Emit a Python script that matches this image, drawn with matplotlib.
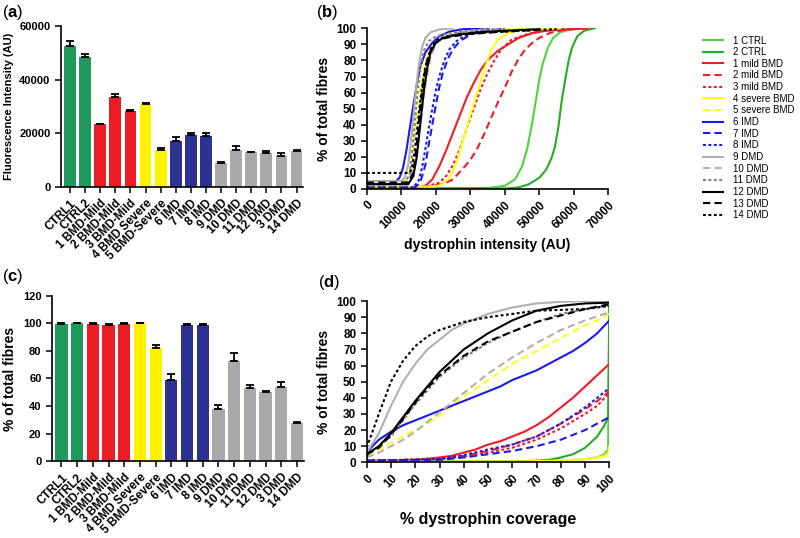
import matplotlib
matplotlib.use('Agg')
import matplotlib.pyplot as plt

plt.rcParams['font.family'] = ['Liberation Sans', 'DejaVu Sans']
plt.rcParams['mathtext.fontset'] = 'custom'
plt.rcParams['mathtext.bf'] = 'Liberation Sans:bold'
plt.rcParams['mathtext.rm'] = 'Liberation Sans'

# bar panels (a) and (c)
patients = ['CTRL1', 'CTRL2', '1 BMD-Mild', '2 BMD-Mild', '3 BMD-Mild', '4 BMD Severe',
            '5 BMD-Severe', '6 IMD', '7 IMD', '8 IMD', '9 DMD', '10 DMD', '11 DMD',
            '12 DMD', '3 DMD', '14 DMD']
intensity = [52600, 48400, 23400, 33700, 28500, 31000, 13900, 17300, 19500, 19100,
             8900, 13900, 12900, 12700, 11700, 13300]
intensity_err = [1900, 1000, 250, 900, 300, 300, 450, 1200, 500, 1000,
                 350, 1400, 300, 600, 1000, 600]
coverage = [99.8, 100, 99.3, 99, 99.8, 100, 82, 59, 99, 99, 37.5, 72.5, 53, 50, 53.5, 28]
coverage_err = [0.5, 0, 0.8, 0.5, 0.5, 0, 2, 4.5, 0.3, 0.3, 3.5, 6, 2, 0.8, 4, 0.5]
bar_colors = ['#1f9a5c'] * 2 + ['#ed1c24'] * 3 + ['#fff200'] * 2 + ['#2e3192'] * 3 + ['#a7a9ac'] * 6

# cumulative curves, panel (b): (dystrophin intensity, % of fibres)
b_curves = [
    [(0, 0.5), (35000, 0.5), (40000, 2), (43000, 6), (45000, 14), (46500, 25), (48000, 42), (49000, 55),
     (50000, 68), (51000, 78), (52500, 88), (54000, 94), (56000, 97.5), (58500, 99), (62000, 99.8), (65000, 100)],
    [(0, 0.3), (40000, 0.3), (44000, 1), (47000, 3), (50000, 7), (52000, 12), (53500, 19), (54500, 26),
     (55500, 38), (56500, 55), (57500, 68), (58500, 80), (59500, 88), (61000, 95), (63000, 98.5), (66000, 100)],
    [(0, 1), (15000, 1), (17000, 2), (19000, 6), (21000, 14), (23000, 24), (25000, 35), (27000, 46),
     (29000, 57), (31000, 66), (33000, 74), (35000, 80), (38000, 86), (41000, 90), (44000, 94),
     (48000, 97), (52000, 98.5), (56000, 99), (60000, 99.5), (64000, 100)],
    [(0, 1), (18000, 1.5), (22000, 3), (25000, 6), (28000, 13), (30000, 18), (32000, 25), (34000, 34),
     (36000, 44), (38000, 54), (40000, 63), (42000, 73), (44000, 81), (46000, 87), (48000, 91),
     (50000, 94), (53000, 97), (57000, 99), (62000, 100)],
    [(0, 1), (15000, 1), (18000, 2), (21000, 4), (23000, 8), (25000, 15), (27000, 25), (29000, 38),
     (31000, 50), (33000, 62), (35000, 72), (37000, 80), (39000, 87), (42000, 93), (46000, 96),
     (50000, 98), (55000, 99.5), (60000, 100)],
    [(0, 1.5), (20000, 1.5), (22000, 3), (24000, 7), (26000, 16), (28000, 31), (30000, 46), (32000, 60),
     (34000, 74), (36000, 86), (38000, 93), (41000, 97), (45000, 99), (50000, 99.5), (56000, 100)],
    [(0, 5), (11000, 5), (12500, 10), (13500, 25), (14500, 45), (15500, 62), (16500, 75), (18000, 85),
     (20000, 91), (23000, 95), (28000, 98), (35000, 99.5), (45000, 100)],
    [(0, 3), (6000, 3), (8000, 4), (9500, 7), (10500, 13), (11500, 24), (12500, 38), (13500, 52),
     (14500, 65), (15500, 76), (17000, 85), (19000, 91), (21000, 95), (24000, 98), (28000, 99.5), (35000, 100)],
    [(0, 1), (14000, 1), (15500, 4), (17000, 15), (18000, 28), (19000, 40), (20000, 52), (21000, 63),
     (22000, 72), (23500, 81), (25000, 87), (27000, 92), (30000, 96), (35000, 99), (40000, 100)],
    [(0, 1), (13500, 1), (15000, 5), (16000, 13), (17000, 25), (18000, 38), (19000, 50), (20000, 61),
     (21000, 70), (22500, 80), (24000, 87), (26000, 92), (29000, 96), (33000, 98.5), (38000, 100)],
    [(0, 5), (10000, 5), (11000, 7), (12000, 15), (13000, 33), (14000, 56), (15000, 76), (16000, 88),
     (17000, 94), (18500, 97.5), (21000, 99.3), (25000, 100)],
    [(0, 4), (10000, 4), (12000, 5), (14000, 15), (15500, 40), (17000, 65), (18500, 82), (20000, 90),
     (22000, 94), (26000, 97), (32000, 99), (40000, 100)],
    [(0, 3), (11000, 3), (12500, 10), (13500, 30), (14500, 55), (15500, 75), (16500, 86), (18000, 92),
     (20000, 95), (24000, 97), (30000, 98.5), (40000, 99.5)],
    [(0, 3), (12000, 3), (13500, 8), (14500, 20), (15500, 40), (16500, 60), (17500, 75), (18500, 85),
     (20000, 91), (22000, 94), (26000, 96), (32000, 97.5), (40000, 98.5), (50000, 99.5)],
    [(0, 4), (12000, 4), (13500, 10), (14500, 28), (15500, 50), (16500, 68), (17500, 80), (19000, 89),
     (21000, 93), (25000, 95), (30000, 96.5), (40000, 98), (50000, 99)],
    [(0, 10), (12000, 10), (13000, 12), (14000, 25), (15000, 45), (16000, 63), (17000, 76), (18500, 87),
     (20000, 92), (23000, 95), (28000, 96.5), (35000, 97.5), (45000, 98.5), (55000, 99.5)],
]

# cumulative curves, panel (d): (% dystrophin coverage, % of fibres)
d_curves = [
    [(0, 0.5), (70, 0.5), (80, 1), (90, 2), (95, 3), (98, 5), (99.5, 8), (100, 100)],
    [(0, 0.5), (60, 0.5), (70, 1), (75, 1.5), (80, 3), (85, 5), (90, 9), (95, 16), (98, 23), (99.5, 28), (100, 100)],
    [(0, 1), (20, 1.5), (30, 3), (35, 4), (40, 6), (45, 8), (50, 11), (55, 13), (60, 16), (65, 19),
     (70, 23), (75, 28), (80, 34), (85, 40), (90, 47), (95, 54), (100, 61)],
    [(0, 1), (30, 2), (40, 4), (50, 7), (60, 11), (70, 16), (80, 24), (90, 33), (95, 38), (100, 44)],
    [(0, 1), (30, 2), (40, 3.5), (50, 6), (60, 9), (70, 14), (80, 21), (90, 30), (95, 35), (100, 43)],
    [(0, 0.5), (60, 0.5), (80, 1), (90, 2), (95, 3), (98, 4), (99.5, 6), (100, 10)],
    [(0, 4), (5, 8), (10, 12), (15, 16), (20, 20), (25, 24), (30, 29), (35, 35), (40, 41), (45, 46),
     (50, 51), (55, 56), (60, 61), (65, 65), (70, 69), (75, 73), (80, 77), (85, 81), (90, 85), (95, 88), (100, 92)],
    [(0, 6), (3, 11), (5, 14), (10, 19), (15, 23), (20, 26), (25, 29), (30, 32), (35, 35), (40, 38),
     (45, 41), (50, 44), (55, 47), (60, 51), (65, 54), (70, 57), (75, 61), (80, 65), (85, 69), (90, 74),
     (95, 80), (100, 88)],
    [(0, 1), (30, 1.5), (40, 3), (50, 5), (60, 7), (70, 10), (80, 14), (90, 20), (95, 24), (100, 28)],
    [(0, 1), (30, 2), (40, 4.5), (50, 8), (60, 11), (70, 16), (80, 24), (90, 34), (95, 40), (100, 46)],
    [(0, 6), (5, 18), (10, 35), (15, 50), (20, 61), (25, 70), (30, 76), (35, 82), (40, 86), (50, 92),
     (60, 96), (70, 98.5), (80, 99.5), (90, 100), (100, 100)],
    [(0, 3), (5, 6), (10, 10), (15, 14), (20, 19), (25, 25), (30, 31), (35, 37), (40, 43), (45, 49),
     (50, 55), (55, 60), (60, 65), (70, 74), (80, 82), (90, 88), (100, 93)],
    [(0, 4), (10, 16), (20, 36), (30, 53), (40, 65), (50, 74), (60, 81), (70, 87), (80, 92), (90, 95), (100, 97)],
    [(0, 5), (5, 10), (10, 18), (15, 28), (20, 38), (25, 47), (30, 56), (35, 63), (40, 70), (50, 80),
     (60, 88), (70, 94), (80, 97), (90, 98.5), (100, 99)],
    [(0, 5), (5, 9), (10, 17), (15, 27), (20, 37), (25, 46), (30, 54), (40, 66), (50, 75), (60, 81),
     (70, 87), (80, 91), (90, 95), (100, 98)],
    [(0, 9), (5, 30), (10, 50), (15, 63), (20, 72), (25, 78), (30, 82), (40, 87), (50, 90), (60, 92),
     (70, 94), (80, 94.5), (90, 95), (100, 97)],
]

line_labels = ['1 CTRL', '2 CTRL', '1 mild BMD', '2 mild BMD', '3 mild BMD', '4 severe BMD',
               '5 severe BMD', '6 IMD', '7 IMD', '8 IMD', '9 DMD', '10 DMD', '11 DMD',
               '12 DMD', '13 DMD', '14 DMD']
line_colors = ['#4fd23c', '#22ad22', '#ee1c24', '#ee1c24', '#ee1c24', '#ffff1a', '#ffff1a',
               '#1a1af0', '#1a1af0', '#1a1af0', '#b0b0b0', '#b0b0b0', '#808080', 'k', 'k', 'k']
line_styles = ['-', '-', '-', '--', ':', '-', '--', '-', '--', ':', '-', '--', ':', '-', '--', ':']
dash_map = {'--': (3.5, 2.0), ':': (1.4, 1.2)}


def style_axes(ax, size=8):
    for s in ['top', 'right']:
        ax.spines[s].set_visible(False)
    for s in ['left', 'bottom']:
        ax.spines[s].set_linewidth(1.2)
    ax.tick_params(direction='out', length=4, width=1.1, labelsize=size)
    for lab in ax.get_yticklabels() + ax.get_xticklabels():
        lab.set_fontweight('bold')


def bar_panel(ax, values, errs, ymax, ystep, ylabel, ylabel_size):
    x = list(range(len(values)))
    ax.bar(x, values, width=0.78, color=bar_colors, zorder=2)
    ax.errorbar(x, values, yerr=[[0] * len(errs), errs], fmt='none', ecolor='k',
                elinewidth=1.3, capsize=2.8, capthick=1.3, zorder=3)
    ax.set_xlim(-0.6, 15.6)
    ax.set_ylim(0, ymax)
    ax.set_yticks(range(0, ymax + 1, ystep))
    ax.set_xticks(x)
    ax.set_xticklabels(patients, rotation=45, ha='right', va='top', rotation_mode='anchor')
    ax.set_ylabel(ylabel, fontsize=ylabel_size, fontweight='bold')
    style_axes(ax, 8.5)
    ax.tick_params(axis='y', labelsize=8)
    ax.spines['bottom'].set_bounds(-0.6, 15.45)


def curve_panel(ax, curves, xmax, xstep):
    handles = []
    for pts, c, ls, lab in zip(curves, line_colors, line_styles, line_labels):
        xs, ys = zip(*pts)
        ln, = ax.plot(xs, ys, color=c, lw=1.5, label=lab, solid_joinstyle='round')
        if ls in dash_map:
            ln.set_dashes(dash_map[ls])
        handles.append(ln)
    ax.set_xlim(0, xmax)
    ax.set_ylim(0, 100)
    ax.set_yticks(range(0, 101, 10))
    ax.set_xticks(range(0, xmax + 1, xstep))
    ax.set_xticklabels([str(v) for v in range(0, xmax + 1, xstep)], rotation=45,
                       ha='right', va='top', rotation_mode='anchor')
    ax.set_ylabel('% of total fibres', fontsize=10, fontweight='bold')
    style_axes(ax, 8.5)
    return handles


fig = plt.figure(figsize=(8, 5.38), dpi=100)

ax_a = fig.add_axes([0.07625, 0.6524, 0.3058, 0.2993])
bar_panel(ax_a, intensity, intensity_err, 60000, 20000, 'Fluorescence Intensity (AU)', 8)

ax_c = fig.add_axes([0.065, 0.143, 0.318, 0.307])
bar_panel(ax_c, coverage, coverage_err, 120, 20, '% of total fibres', 10)

ax_b = fig.add_axes([0.4584, 0.6487, 0.302, 0.2987])
handles = curve_panel(ax_b, b_curves, 70000, 10000)
ax_b.set_xlabel('dystrophin intensity (AU)', fontsize=10, fontweight='bold', labelpad=5)

ax_d = fig.add_axes([0.4584, 0.1407, 0.3033, 0.2998])
curve_panel(ax_d, d_curves, 100, 10)
ax_d.set_xlabel('% dystrophin coverage', fontsize=11.5, fontweight='bold', labelpad=12)

fig.legend(handles, line_labels, loc='upper left', bbox_to_anchor=(0.879, 0.934),
           frameon=False, fontsize=7, handlelength=2.0, handletextpad=1.1,
           labelspacing=0.17, borderaxespad=0, borderpad=0)

for letter, (px, py) in zip('abcd', [(2, 12), (316, 12), (2, 277), (318, 282)]):
    fig.text(px / 800, 1 - py / 538, r'(${\bf %s}$)' % letter, fontsize=12, va='center', ha='left')

fig.savefig('out.png', dpi=100)
